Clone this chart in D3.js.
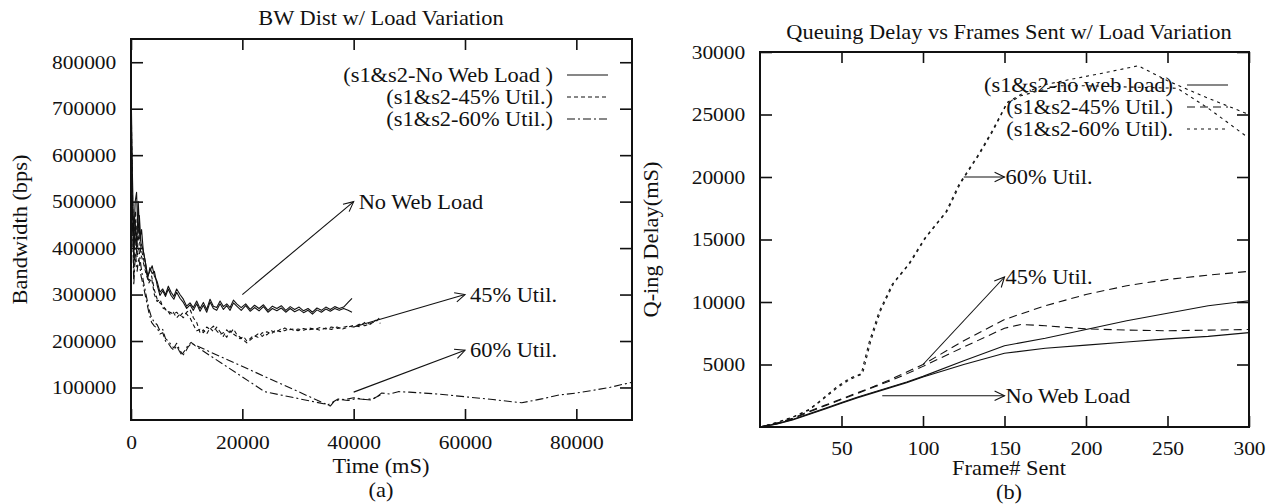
<!DOCTYPE html>
<html>
<head>
<meta charset="utf-8">
<script src="https://cdn.jsdelivr.net/npm/d3@7"></script>
<style>
  body { margin: 0; background: #fff; }
  text { font-family: "Liberation Serif", "Times New Roman", serif; font-size: 20px; fill: #111; }
  .tick text { font-size: 19px; }
</style>
</head>
<body>
<svg id="chart" width="1273" height="504"></svg>
<script>
// ---- (a) bandwidth vs time, two runs (s1, s2) per load level: [time mS, bps]
var bwNoLoadS1 = [[0,760000],[250,560000],[500,420000],[750,500000],[1000,520000],[1250,430000],[1500,470000],[1800,410000],[2100,400000],[2500,375000],[3000,340000],[3400,350000],[3800,362000],[4200,340000],[4700,328000],[5200,305000],[5700,312000],[6200,300000],[6700,318000],[7200,305000],[7700,296000],[8200,312000],[8800,300000],[9400,290000],[10000,275000],[10600,282000],[11200,272000],[11800,286000],[12400,270000],[13000,283000],[13600,268000],[14200,290000],[14800,275000],[15400,272000],[16000,286000],[16600,274000],[17200,280000],[17800,272000],[18400,288000],[19000,280000],[19800,272000],[20600,280000],[21400,268000],[22200,277000],[23000,270000],[23800,278000],[24600,266000],[25400,275000],[26200,270000],[27000,276000],[27800,266000],[28600,274000],[29400,268000],[30200,273000],[31000,265000],[31800,270000],[32600,262000],[33400,271000],[34200,266000],[35000,273000],[35800,268000],[36600,274000],[37400,270000],[38200,273000],[39000,283000],[39700,292000]];
var bwNoLoadS2 = [[0,700000],[250,480000],[500,380000],[750,460000],[1000,400000],[1300,500000],[1600,420000],[1900,440000],[2200,395000],[2600,368000],[3000,335000],[3400,358000],[3800,345000],[4200,350000],[4700,320000],[5200,298000],[5700,308000],[6200,296000],[6700,312000],[7200,298000],[7700,290000],[8200,305000],[8800,292000],[9400,283000],[10000,270000],[10600,278000],[11200,266000],[11800,280000],[12400,264000],[13000,277000],[13600,262000],[14200,284000],[14800,270000],[15400,266000],[16000,280000],[16600,268000],[17200,276000],[17800,266000],[18400,282000],[19000,275000],[19800,266000],[20600,276000],[21400,264000],[22200,272000],[23000,265000],[23800,274000],[24600,262000],[25400,270000],[26200,265000],[27000,271000],[27800,262000],[28600,270000],[29400,263000],[30200,268000],[31000,261000],[31800,266000],[32600,258000],[33400,267000],[34200,262000],[35000,269000],[35800,264000],[36600,270000],[37400,266000],[38200,270000],[39000,266000],[39700,262000]];
var bw45S1 = [[0,740000],[250,520000],[500,400000],[800,480000],[1100,410000],[1400,450000],[1800,400000],[2200,380000],[2700,350000],[3200,330000],[3700,340000],[4200,310000],[4700,290000],[5200,282000],[5800,275000],[6400,265000],[7000,262000],[7600,258000],[8200,262000],[8800,254000],[9400,262000],[10000,258000],[10600,250000],[11200,235000],[11800,222000],[12400,225000],[13000,218000],[13600,230000],[14200,225000],[14800,232000],[15400,222000],[16000,214000],[16600,218000],[17200,208000],[17800,222000],[18400,215000],[19000,210000],[19600,205000],[20200,210000],[20800,200000],[21400,205000],[22000,212000],[22800,208000],[23600,218000],[24400,213000],[25200,222000],[26000,218000],[26800,225000],[27600,222000],[28400,227000],[29200,223000],[30000,226000],[31000,223000],[32000,228000],[33000,225000],[34000,229000],[35000,226000],[36000,230000],[37000,227000],[38000,229000],[39000,232000],[40000,230000],[41000,236000],[42000,233000],[43000,238000],[44000,242000],[44800,252000]];
var bw45S2 = [[0,680000],[250,470000],[500,380000],[800,440000],[1100,390000],[1400,430000],[1800,385000],[2200,370000],[2700,345000],[3200,325000],[3700,335000],[4200,300000],[4700,285000],[5200,290000],[5800,270000],[6400,268000],[7000,258000],[7600,262000],[8200,250000],[8800,258000],[9400,250000],[10000,262000],[10600,268000],[11200,250000],[11800,240000],[12400,218000],[13000,224000],[13600,215000],[14200,228000],[14800,220000],[15400,230000],[16000,220000],[16600,210000],[17200,224000],[17800,216000],[18400,226000],[19000,214000],[19600,208000],[20200,202000],[20800,196000],[21400,202000],[22000,208000],[22800,215000],[23600,210000],[24400,220000],[25200,215000],[26000,224000],[26800,220000],[27600,228000],[28400,224000],[29200,226000],[30000,222000],[31000,227000],[32000,224000],[33000,227000],[34000,223000],[35000,228000],[36000,225000],[37000,230000],[38000,226000],[39000,230000],[40000,234000],[41000,231000],[42000,240000],[43000,236000],[44000,245000],[44800,238000]];
var bw60S1 = [[0,720000],[250,500000],[500,340000],[800,420000],[1100,380000],[1400,400000],[1800,360000],[2200,330000],[2700,300000],[3200,270000],[3700,250000],[4200,240000],[4700,235000],[5200,222000],[5700,225000],[6200,205000],[6700,200000],[7200,192000],[7700,185000],[8200,195000],[8700,182000],[9200,172000],[9700,180000],[10200,190000],[10800,197000],[11500,190000],[24000,91000],[35400,63000],[36200,68000],[37200,75000],[38500,74000],[40000,78000],[41500,75000],[43200,73000],[44200,80000],[45000,88000],[46500,86000],[48000,91000],[50000,90000],[55000,86000],[60000,80000],[65000,74000],[70200,67000],[74000,76000],[77000,84000],[80000,88000],[83000,94000],[86000,100000],[88000,106000],[90000,111000]];
var bw60S2 = [[0,660000],[250,460000],[500,320000],[800,390000],[1100,350000],[1400,380000],[1800,340000],[2200,320000],[2700,290000],[3200,262000],[3700,240000],[4200,232000],[4700,228000],[5200,215000],[5700,218000],[6200,200000],[6700,195000],[7200,186000],[7700,180000],[8200,190000],[8700,178000],[9200,168000],[9700,175000],[10200,186000],[10800,195000],[35800,60000],[36500,70000],[37500,74000],[39000,72000],[40500,76000],[42000,74000],[43500,76000],[44800,84000]];

// ---- (b) queuing delay vs frames sent: [frame#, delay mS]
var qNoLoadS1 = [[0,0],[10,250],[20,600],[30,1050],[40,1500],[50,1950],[60,2400],[70,2800],[80,3200],[90,3600],[100,4050],[125,5300],[150,6500],[175,7100],[200,7800],[225,8500],[250,9100],[275,9700],[300,10100]];
var qNoLoadS2 = [[0,0],[10,230],[20,570],[30,1000],[40,1450],[50,1900],[60,2350],[70,2750],[80,3150],[90,3550],[100,4000],[125,5000],[150,5900],[175,6300],[200,6550],[225,6800],[250,7050],[275,7250],[300,7550]];
var q45S1 = [[0,0],[10,300],[20,700],[30,1250],[40,1750],[50,2250],[60,2750],[70,3250],[80,3800],[90,4400],[100,5000],[125,6900],[150,8600],[175,9700],[200,10600],[225,11300],[250,11800],[275,12150],[300,12450]];
var q45S2 = [[0,0],[10,280],[20,650],[30,1200],[40,1700],[50,2200],[60,2700],[70,3200],[80,3700],[90,4250],[100,4850],[125,6400],[150,7900],[160,8200],[175,8100],[200,7850],[225,7750],[250,7700],[275,7750],[300,7800]];
var q60S1 = [[0,0],[10,350],[20,800],[30,1400],[36,2000],[47,3200],[55,3900],[63,4300],[68,6900],[74,9300],[82,11500],[92,13100],[102,15200],[115,17300],[123,19500],[135,21900],[143,23700],[152,26000],[160,26600],[175,27400],[194,27900],[210,28300],[232,28900],[250,27700],[275,26300],[300,25000]];
var q60S2 = [[0,0],[10,330],[20,770],[30,1350],[36,1950],[47,3100],[55,3800],[62,4200],[67,6800],[73,9200],[81,11400],[91,13000],[101,15100],[114,17200],[122,19400],[134,21800],[142,23600],[151,25800],[160,26500],[183,27300],[200,27300],[225,27200],[256,27100],[275,25500],[300,23100]];

// ---- ticks and labels
var xTicksA = [0, 20000, 40000, 60000, 80000];
var yTicksA = [100000, 200000, 300000, 400000, 500000, 600000, 700000, 800000];
var xTicksB = [50, 100, 150, 200, 250, 300];
var yTicksB = [5000, 10000, 15000, 20000, 25000, 30000];
var legendA = ["(s1&s2-No Web Load )", "(s1&s2-45% Util.)", "(s1&s2-60% Util.)"];
var legendB = ["(s1&s2-no web load)", "(s1&s2-45% Util.)", "(s1&s2-60% Util)."];
var notesA = ["No Web Load", "45% Util.", "60% Util."];
var notesB = ["60% Util.", "45% Util.", "No Web Load"];
// arrow ends in data units
var arrowsA = [[[20000,300000],[40000,500000]], [[40000,230000],[60000,300000]], [[40000,90000],[60000,180000]]];
var arrowsB = [[[125,20000],[150,20000]], [[100,5000],[150,12000]], [[75,2500],[150,2500]]];

var SX = 1.12;   // the fonts in the picture are a bit wide
var svg = d3.select("#chart");

function label(g, x, y, s, anchor, rot) {
    g.append("g")
        .attr("transform", "translate(" + x + "," + y + ")" + (rot ? " rotate(" + rot + ")" : "") + " scale(" + SX + ",1)")
        .append("text")
        .attr("text-anchor", anchor || "middle")
        .attr("dy", "0.35em")
        .text(s);
}

function arrow(g, x1, y1, x2, y2) {
    var a = Math.atan2(y2 - y1, x2 - x1), L = 11, w = 0.45;
    g.append("line").attr("x1", x1).attr("y1", y1).attr("x2", x2).attr("y2", y2);
    g.append("path").attr("fill", "none")
        .attr("d", "M" + (x2 - L * Math.cos(a - w)) + "," + (y2 - L * Math.sin(a - w)) +
                   "L" + x2 + "," + y2 +
                   "L" + (x2 - L * Math.cos(a + w)) + "," + (y2 - L * Math.sin(a + w)));
}

function panel(o) {
    var x = d3.scaleLinear().domain(o.xDom).range([o.left, o.right]);
    var y = d3.scaleLinear().domain(o.yDom).range([o.bottom, o.top]);
    var g = svg.append("g");

    // ticks, all pointing inward like gnuplot
    g.append("g").attr("transform", "translate(0," + o.bottom + ")")
        .call(d3.axisBottom(x).tickValues(o.xTicks).tickSize(-11).tickSizeOuter(0).tickPadding(o.xPad).tickFormat(d3.format("d")));
    g.append("g").attr("transform", "translate(0," + o.top + ")")
        .call(d3.axisTop(x).tickValues(o.xTicks).tickSize(-11).tickSizeOuter(0).tickFormat(""));
    g.append("g").attr("transform", "translate(" + o.left + ",0)")
        .call(d3.axisLeft(y).tickValues(o.yTicks).tickSize(-12).tickSizeOuter(0).tickPadding(13).tickFormat(d3.format("d")));
    g.append("g").attr("transform", "translate(" + o.right + ",0)")
        .call(d3.axisRight(y).tickValues(o.yTicks).tickSize(-12).tickSizeOuter(0).tickFormat(""));
    g.selectAll(".domain").remove();
    g.selectAll(".tick line").attr("stroke", "#111").attr("stroke-width", 1.6);
    g.selectAll(".tick text").attr("font-size", null).attr("font-family", null)
        .attr("transform", "scale(1.13,1)");

    var line = d3.line().x(function (d) { return x(d[0]); }).y(function (d) { return y(d[1]); });
    o.series.forEach(function (s) {
        g.append("path").attr("d", line(s.data))
            .attr("fill", "none").attr("stroke", "#111").attr("stroke-width", 1.1)
            .attr("stroke-linejoin", "round")
            .attr("stroke-dasharray", s.dash);
    });

    // frame
    g.append("rect").attr("x", o.left).attr("y", o.top)
        .attr("width", o.right - o.left).attr("height", o.bottom - o.top)
        .attr("fill", "none").attr("stroke", "#111").attr("stroke-width", 2);

    // legend
    o.legend.forEach(function (t, i) {
        var ly = o.legY + i * 22;
        label(g, o.legX, ly, t, "end");
        g.append("line").attr("x1", o.legX + 14).attr("x2", o.legX + 55)
            .attr("y1", ly).attr("y2", ly)
            .attr("stroke", "#111").attr("stroke-width", 1.1).attr("stroke-dasharray", o.legDash[i]);
    });

    // annotations
    var ag = g.append("g").attr("stroke", "#111").attr("stroke-width", 1.1);
    o.arrows.forEach(function (a, i) {
        var x2 = x(a[1][0]), y2 = y(a[1][1]);
        arrow(ag, x(a[0][0]), y(a[0][1]), x2, y2);
        label(g, x2 + o.noteGap, y2, o.notes[i], "start");
    });

    label(g, o.titleX, o.titleY, o.title);
    label(g, o.titleX, o.xLabY, o.xLab);
    label(g, o.titleX, o.subY, o.sub);
    label(g, o.yLabX, (o.top + o.bottom) / 2, o.yLab, "middle", -90);
}

panel({
    left: 131, right: 632, top: 39, bottom: 420,
    xDom: [0, 90000], yDom: [30000, 850000],
    xTicks: xTicksA, yTicks: yTicksA, xPad: 16,
    series: [
        { data: bwNoLoadS1, dash: null }, { data: bwNoLoadS2, dash: null },
        { data: bw45S1, dash: "4,3" }, { data: bw45S2, dash: "4,3" },
        { data: bw60S1, dash: "8,3,2,3" }, { data: bw60S2, dash: "8,3,2,3" }
    ],
    legend: legendA, legDash: [null, "4,3", "8,3,2,3"], legX: 553, legY: 75,
    arrows: arrowsA, notes: notesA, noteGap: 5,
    title: "BW Dist w/ Load Variation", titleX: 381, titleY: 18,
    xLab: "Time (mS)", xLabY: 466, sub: "(a)", subY: 490,
    yLab: "Bandwidth (bps)", yLabX: 20
});

panel({
    left: 760, right: 1249, top: 52, bottom: 427,
    xDom: [0, 300], yDom: [0, 30000],
    xTicks: xTicksB, yTicks: yTicksB, xPad: 15,
    series: [
        { data: qNoLoadS1, dash: null }, { data: qNoLoadS2, dash: null },
        { data: q45S1, dash: "8,5" }, { data: q45S2, dash: "8,5" },
        { data: q60S1, dash: "3,4" }, { data: q60S2, dash: "3,4" }
    ],
    legend: legendB, legDash: [null, "8,5", "3,4"], legX: 1173, legY: 85,
    arrows: arrowsB, notes: notesB, noteGap: 1,
    title: "Queuing Delay vs Frames Sent w/ Load Variation", titleX: 1009, titleY: 32,
    xLab: "Frame# Sent", xLabY: 468, sub: "(b)", subY: 492,
    yLab: "Q-ing Delay(mS)", yLabX: 651
});
</script>
</body>
</html>
